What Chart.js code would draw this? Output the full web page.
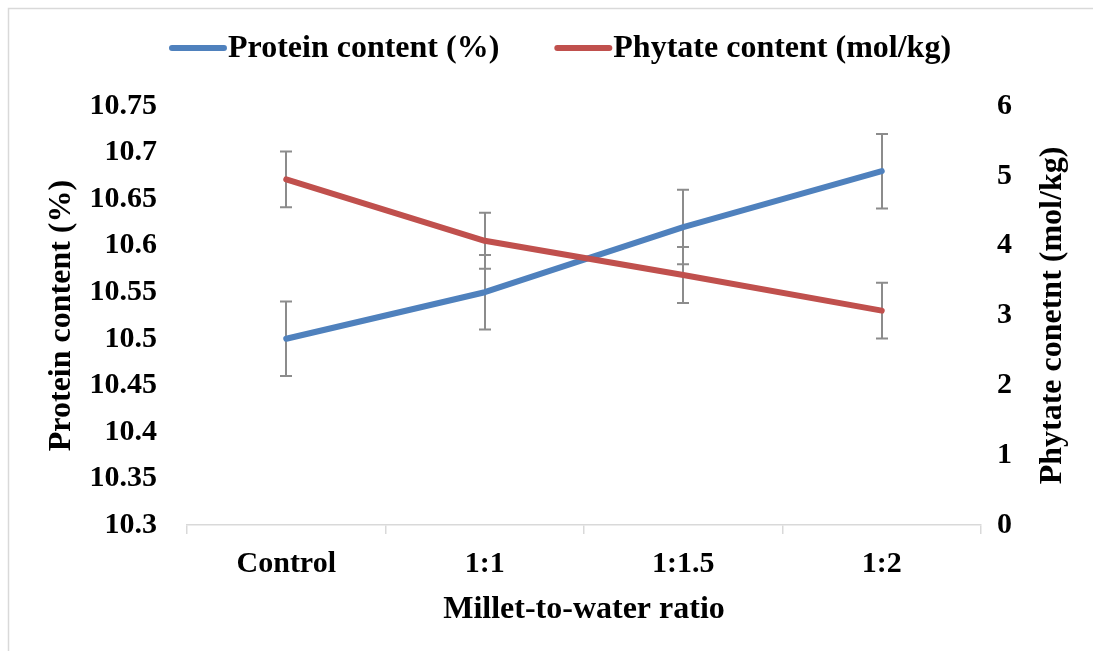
<!DOCTYPE html>
<html><head><meta charset="utf-8">
<script src="https://cdn.jsdelivr.net/npm/chart.js@4.4.1/dist/chart.umd.min.js"></script>
<style>html,body{margin:0;padding:0;background:#fff}canvas{display:block}</style>
</head><body>
<canvas id="c" width="1093" height="651"></canvas>
<script>
const categories = ['Control', '1:1', '1:1.5', '1:2'];
const proteinValues = [10.50, 10.55, 10.62, 10.68];
const proteinErrors = [0.04, 0.04, 0.04, 0.04];
const phytateValues = [4.95, 4.07, 3.58, 3.07];
const phytateErrors = [0.4, 0.4, 0.4, 0.4];
const leftTickValues = [10.3, 10.35, 10.4, 10.45, 10.5, 10.55, 10.6, 10.65, 10.7, 10.75];
const rightTickValues = [0, 1, 2, 3, 4, 5, 6];
const seriesNames = ['Protein content (%)', 'Phytate content (mol/kg)'];
const xTitle = 'Millet-to-water ratio';
const leftTitle = 'Protein content (%)';
const rightTitle = 'Phytate conetnt (mol/kg)';

const FONT = 'Liberation Serif';
const BLUE = '#4F81BD';
const RED = '#C0504D';
const GRID = '#d9d9d9';

const framePlugin = {
  id: 'frame',
  beforeDraw(chart) {
    const ctx = chart.ctx;
    ctx.save();
    ctx.strokeStyle = GRID;
    ctx.lineWidth = 1.5;
    ctx.beginPath();
    ctx.moveTo(8.5, chart.height);
    ctx.lineTo(8.5, 8.5);
    ctx.lineTo(chart.width, 8.5);
    ctx.stroke();
    ctx.restore();
  }
};

const errorBarPlugin = {
  id: 'errorBars',
  beforeDatasetsDraw(chart) {
    const ctx = chart.ctx;
    ctx.save();
    ctx.strokeStyle = '#8c8c8c';
    ctx.lineWidth = 2;
    chart.data.datasets.forEach((ds, i) => {
      const meta = chart.getDatasetMeta(i);
      const ys = chart.scales[ds.yAxisID];
      ds.errors.forEach((e, j) => {
        const pt = meta.data[j];
        const v = ds.data[j];
        const y1 = ys.getPixelForValue(v + e);
        const y2 = ys.getPixelForValue(v - e);
        const x = Math.round(pt.x);
        ctx.beginPath();
        ctx.moveTo(x, y1); ctx.lineTo(x, y2);
        ctx.moveTo(x - 6, y1); ctx.lineTo(x + 6, y1);
        ctx.moveTo(x - 6, y2); ctx.lineTo(x + 6, y2);
        ctx.stroke();
      });
    });
    ctx.restore();
  }
};

const extrasPlugin = {
  id: 'extras',
  afterDraw(chart) {
    const ctx = chart.ctx;
    const ca = chart.chartArea;
    ctx.save();
    ctx.font = 'bold 32px "' + FONT + '"';
    ctx.fillStyle = '#000';
    ctx.textAlign = 'center';
    ctx.textBaseline = 'middle';
    ctx.translate(1053, (ca.top + ca.bottom) / 2);
    ctx.rotate(-Math.PI / 2);
    ctx.fillText(rightTitle, 0, 0);
    ctx.restore();

    ctx.save();
    ctx.font = 'bold 32px "' + FONT + '"';
    ctx.textBaseline = 'middle';
    ctx.textAlign = 'left';
    const ds = chart.data.datasets;
    const mw = 58, gapText = 1, gapItem = 55;
    const widths = ds.map(d => ctx.measureText(d.label).width);
    let total = 0;
    widths.forEach((w, i) => { total += mw + gapText + w + (i < widths.length - 1 ? gapItem : 0); });
    let x = 560 - total / 2;
    const y = 48;
    ds.forEach((d, i) => {
      ctx.strokeStyle = d.borderColor;
      ctx.lineWidth = 6;
      ctx.lineCap = 'round';
      ctx.beginPath();
      ctx.moveTo(x + 3, y); ctx.lineTo(x + mw - 3, y);
      ctx.stroke();
      ctx.fillStyle = '#000';
      ctx.fillText(d.label, x + mw + gapText, y + 1);
      x += mw + gapText + widths[i] + gapItem;
    });
    ctx.restore();
  }
};

new Chart(document.getElementById('c'), {
  type: 'line',
  data: {
    labels: categories,
    datasets: [
      { label: seriesNames[0], data: proteinValues, errors: proteinErrors, yAxisID: 'yL',
        borderColor: BLUE, backgroundColor: BLUE, borderWidth: 6, pointRadius: 0,
        borderCapStyle: 'round', borderJoinStyle: 'round', tension: 0, order: 1 },
      { label: seriesNames[1], data: phytateValues, errors: phytateErrors, yAxisID: 'yR',
        borderColor: RED, backgroundColor: RED, borderWidth: 6, pointRadius: 0,
        borderCapStyle: 'round', borderJoinStyle: 'round', tension: 0, order: 0 }
    ]
  },
  options: {
    responsive: false,
    animation: false,
    devicePixelRatio: 1,
    layout: { padding: { top: 106, left: 10, right: 10, bottom: 10 } },
    plugins: { legend: { display: false }, tooltip: { enabled: false } },
    scales: {
      x: {
        type: 'category',
        offset: true,
        grid: { display: true, drawOnChartArea: false, drawTicks: true, tickLength: 9, color: GRID, lineWidth: 1.5, offset: true },
        border: { display: true, color: GRID, width: 1.5 },
        ticks: { color: '#000', font: { family: FONT, size: 30, weight: 'bold' }, padding: 12, maxRotation: 0 },
        title: { display: true, text: xTitle, color: '#000', font: { family: FONT, size: 32, weight: 'bold' }, padding: { top: 0, bottom: 12 } },
        afterFit(s) { s.height = 116; }
      },
      yL: {
        type: 'linear', position: 'left', min: 10.3, max: 10.75,
        afterBuildTicks(s) { s.ticks = leftTickValues.map(v => ({ value: v })); },
        grid: { display: false, drawTicks: false },
        border: { display: false },
        ticks: { color: '#000', font: { family: FONT, size: 30, weight: 'bold' }, padding: 30,
          callback: v => String(Number(v.toFixed(2))) },
        title: { display: true, text: leftTitle, color: '#000', font: { family: FONT, size: 32, weight: 'bold' }, padding: { top: 33, bottom: 0 } },
        afterFit(s) { s.width = 177; }
      },
      yR: {
        type: 'linear', position: 'right', min: 0, max: 6,
        afterBuildTicks(s) { s.ticks = rightTickValues.map(v => ({ value: v })); },
        grid: { display: false, drawTicks: false },
        border: { display: false },
        ticks: { color: '#000', font: { family: FONT, size: 30, weight: 'bold' }, padding: 16 },
        title: { display: false },
        afterFit(s) { s.width = 102; }
      }
    }
  },
  plugins: [framePlugin, errorBarPlugin, extrasPlugin]
});
</script>
</body></html>
